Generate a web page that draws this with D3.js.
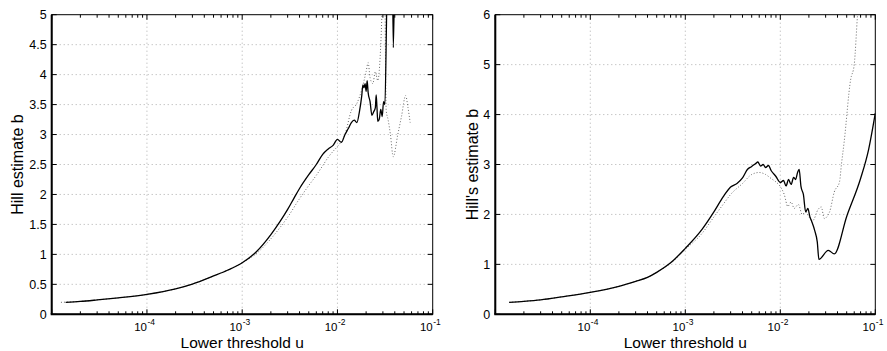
<!DOCTYPE html>
<html><head><meta charset="utf-8">
<script src="https://cdn.jsdelivr.net/npm/d3@7"></script>
<style>body{margin:0;background:#fff}svg{display:block;font-family:"Liberation Sans",Arial,sans-serif}</style>
</head><body><svg id="c" width="887" height="351"></svg>
<script>
// ---- data ----
const leftSolidU = [1.4e-5,2e-5,3e-5,5e-5,1e-4,2e-4,3e-4,5e-4,7e-4,1e-3,1.4e-3,2e-3,2.5e-3,3e-3,3.5e-3,4e-3,5e-3,6e-3,7e-3,8e-3,9e-3,1e-2,1.1e-2,1.2e-2,1.3e-2,1.4e-2,1.5e-2,1.6e-2,1.7e-2,1.8e-2,1.85e-2,1.9e-2,1.95e-2,2.0e-2,2.05e-2,2.1e-2,2.2e-2,2.3e-2,2.4e-2,2.5e-2,2.55e-2,2.6e-2,2.65e-2,2.75e-2,2.85e-2,2.95e-2,3.05e-2,3.15e-2,3.3e-2,3.5e-2,3.7e-2,3.86e-2,4.05e-2,4.5e-2];
const leftSolidB = [0.20,0.215,0.24,0.275,0.333,0.425,0.505,0.64,0.735,0.86,1.04,1.33,1.55,1.75,1.94,2.10,2.33,2.50,2.67,2.76,2.82,2.92,2.87,3.00,3.10,3.20,3.24,3.20,3.38,3.65,3.83,3.78,3.85,3.72,3.90,3.70,3.55,3.32,3.38,3.45,3.66,3.45,3.22,3.26,3.42,3.30,3.55,3.50,5.2,6.5,7.0,4.45,6.5,8.0];
const leftDotU = [1.25e-5,2e-5,3e-5,5e-5,1e-4,2e-4,3e-4,5e-4,7e-4,1e-3,1.4e-3,2e-3,2.5e-3,3e-3,4e-3,5e-3,6e-3,7e-3,8e-3,9e-3,1e-2,1.2e-2,1.4e-2,1.6e-2,1.8e-2,2.0e-2,2.1e-2,2.2e-2,2.35e-2,2.5e-2,2.65e-2,2.85e-2,3.0e-2,3.1e-2,3.25e-2,3.4e-2,3.6e-2,3.85e-2,4.3e-2,4.7e-2,5.2e-2,5.5e-2,5.8e-2];
const leftDotB = [0.20,0.215,0.24,0.275,0.333,0.425,0.505,0.64,0.735,0.86,1.01,1.26,1.45,1.62,1.93,2.15,2.32,2.48,2.62,2.72,2.80,3.00,3.40,3.52,3.75,4.05,4.20,3.95,3.85,4.05,3.90,4.50,5.50,6.20,3.40,3.25,3.00,2.63,3.00,3.30,3.65,3.45,3.20];
const rightSolidU = [1.4e-5,2e-5,3e-5,5e-5,1e-4,2e-4,3e-4,4e-4,5e-4,7e-4,1e-3,1.5e-3,2e-3,2.5e-3,3e-3,3.5e-3,4e-3,4.5e-3,5e-3,5.5e-3,5.8e-3,6.2e-3,6.6e-3,7e-3,7.5e-3,8e-3,9e-3,1e-2,1.08e-2,1.15e-2,1.22e-2,1.3e-2,1.38e-2,1.45e-2,1.52e-2,1.58e-2,1.65e-2,1.75e-2,1.85e-2,1.95e-2,2.05e-2,2.15e-2,2.3e-2,2.45e-2,2.55e-2,3.2e-2,3.7e-2,5e-2,7e-2,8.5e-2,1e-1];
const rightSolidB = [0.24,0.26,0.29,0.35,0.44,0.56,0.66,0.74,0.84,1.03,1.32,1.70,2.05,2.35,2.55,2.62,2.73,2.90,2.96,3.02,3.05,2.97,3.00,2.94,2.98,2.88,2.76,2.64,2.68,2.57,2.70,2.60,2.74,2.70,2.84,2.90,2.56,2.40,2.05,2.12,1.95,1.85,1.68,1.45,1.10,1.28,1.21,1.96,2.72,3.30,4.03];
const rightDotU = [1.4e-5,2e-5,3e-5,5e-5,1e-4,2e-4,3e-4,4e-4,5e-4,7e-4,1e-3,1.5e-3,2e-3,2.5e-3,3e-3,4e-3,5e-3,6e-3,7e-3,8e-3,9e-3,1e-2,1.1e-2,1.2e-2,1.3e-2,1.4e-2,1.55e-2,1.7e-2,1.85e-2,2.0e-2,2.2e-2,2.5e-2,2.7e-2,2.9e-2,3.3e-2,3.7e-2,4.2e-2,4.4e-2,4.7e-2,5.5e-2,6.0e-2,6.5e-2,7.0e-2];
const rightDotB = [0.24,0.26,0.29,0.35,0.44,0.56,0.66,0.74,0.84,1.02,1.30,1.62,1.95,2.20,2.40,2.62,2.80,2.84,2.80,2.72,2.65,2.56,2.40,2.16,2.25,2.12,2.20,2.00,2.05,1.95,1.88,2.10,2.15,1.92,2.05,2.45,2.65,3.00,3.45,4.70,5.00,6.00,6.80];
const leftYTicks = [0,0.5,1,1.5,2,2.5,3,3.5,4,4.5,5];
const rightYTicks = [0,1,2,3,4,5,6];
const xTickExps = [-4,-3,-2,-1];
const xLabel = "Lower threshold u";

// ---- drawing ----
const svg = d3.select("#c");
const panels = [
  {x0:51.7,x1:432.7,y0:14.7,y1:314.3,ymax:5,yticks:leftYTicks,ylab:"Hill estimate b",ylx:23,
   solid:[leftSolidU,leftSolidB],dot:[leftDotU,leftDotB]},
  {x0:495.3,x1:875.3,y0:14.7,y1:314.3,ymax:6,yticks:rightYTicks,ylab:"Hill's estimate b",ylx:478,
   solid:[rightSolidU,rightSolidB],dot:[rightDotU,rightDotB]}
];
panels.forEach((p,i)=>{
  const x = d3.scaleLog().domain([1e-5,1e-1]).range([p.x0,p.x1]);
  const y = d3.scaleLinear().domain([0,p.ymax]).range([p.y1,p.y0]);
  const g = svg.append("g");
  const cid = "clip"+i;
  svg.append("clipPath").attr("id",cid).append("rect")
     .attr("x",p.x0).attr("y",p.y0).attr("width",p.x1-p.x0).attr("height",p.y1-p.y0);
  // grid
  const grid = g.append("g").attr("stroke","#9a9a9a").attr("stroke-width",0.8).attr("stroke-dasharray","1,3");
  xTickExps.filter(e=>e>-5&&e<-1).forEach(e=>{
    const xx = x(Math.pow(10,e));
    grid.append("line").attr("x1",xx).attr("x2",xx).attr("y1",p.y0).attr("y2",p.y1);
  });
  p.yticks.filter(t=>t>0&&t<p.ymax).forEach(t=>{
    grid.append("line").attr("x1",p.x0).attr("x2",p.x1).attr("y1",y(t)).attr("y2",y(t));
  });
  // lines
  const line = d3.line().x(d=>x(d[0])).y(d=>y(d[1])).curve(d3.curveMonotoneX);
  const dd = p.dot[0].map((u,k)=>[u,p.dot[1][k]]);
  const sd = p.solid[0].map((u,k)=>[u,p.solid[1][k]]);
  const lg = g.append("g").attr("clip-path","url(#"+cid+")");
  lg.append("path").attr("d",line(dd)).attr("fill","none").attr("stroke","#6a6a6a")
    .attr("stroke-width",1).attr("stroke-dasharray","1,2");
  lg.append("path").attr("d",line(sd)).attr("fill","none").attr("stroke","#000")
    .attr("stroke-width",1.3).attr("stroke-linejoin","round");
  // box
  g.append("rect").attr("x",p.x0).attr("y",p.y0).attr("width",p.x1-p.x0).attr("height",p.y1-p.y0)
   .attr("fill","none").attr("stroke","#000").attr("stroke-width",1);
  g.append("line").attr("x1",p.x0).attr("x2",p.x0).attr("y1",p.y0).attr("y2",p.y1).attr("stroke","#000").attr("stroke-width",2);
  g.append("line").attr("x1",p.x0-1).attr("x2",p.x1).attr("y1",p.y1).attr("y2",p.y1).attr("stroke","#000").attr("stroke-width",2);
  // x ticks (major + minor), inside, bottom and top
  const tk = g.append("g").attr("stroke","#000").attr("stroke-width",1);
  for(let e=-5;e<=-1;e++){
    for(let m=1;m<=9;m++){
      const u = m*Math.pow(10,e);
      if(u>1e-1*1.0001) break;
      const xx = x(u);
      const L = (m===1)?5:3;
      tk.append("line").attr("x1",xx).attr("x2",xx).attr("y1",p.y1).attr("y2",p.y1-L);
      tk.append("line").attr("x1",xx).attr("x2",xx).attr("y1",p.y0).attr("y2",p.y0+L);
    }
  }
  p.yticks.forEach(t=>{
    tk.append("line").attr("x1",p.x0).attr("x2",p.x0+5).attr("y1",y(t)).attr("y2",y(t));
    tk.append("line").attr("x1",p.x1).attr("x2",p.x1-5).attr("y1",y(t)).attr("y2",y(t));
  });
  // y tick labels
  p.yticks.forEach(t=>{
    g.append("text").attr("x",p.x0-5).attr("y",y(t)+4.5).attr("text-anchor","end")
     .attr("font-size",12.5).attr("fill","#000").text(String(t));
  });
  // x tick labels
  xTickExps.forEach(e=>{
    const xx = x(Math.pow(10,e));
    g.append("text").attr("x",xx).attr("y",331).attr("text-anchor","end")
     .attr("font-size",11.5).attr("fill","#000").text("10");
    g.append("text").attr("x",xx+0.5).attr("y",325).attr("text-anchor","start")
     .attr("font-size",8.5).attr("fill","#000").text("-"+Math.abs(e));
  });
  // axis labels
  g.append("text").attr("x",(p.x0+p.x1)/2).attr("y",348).attr("text-anchor","middle")
   .attr("font-size",15.5).attr("fill","#000").text(xLabel);
  g.append("text").attr("transform","translate("+p.ylx+","+((p.y0+p.y1)/2)+") rotate(-90)")
   .attr("text-anchor","middle").attr("font-size",16).attr("fill","#000").text(p.ylab);
});
</script></body></html>
